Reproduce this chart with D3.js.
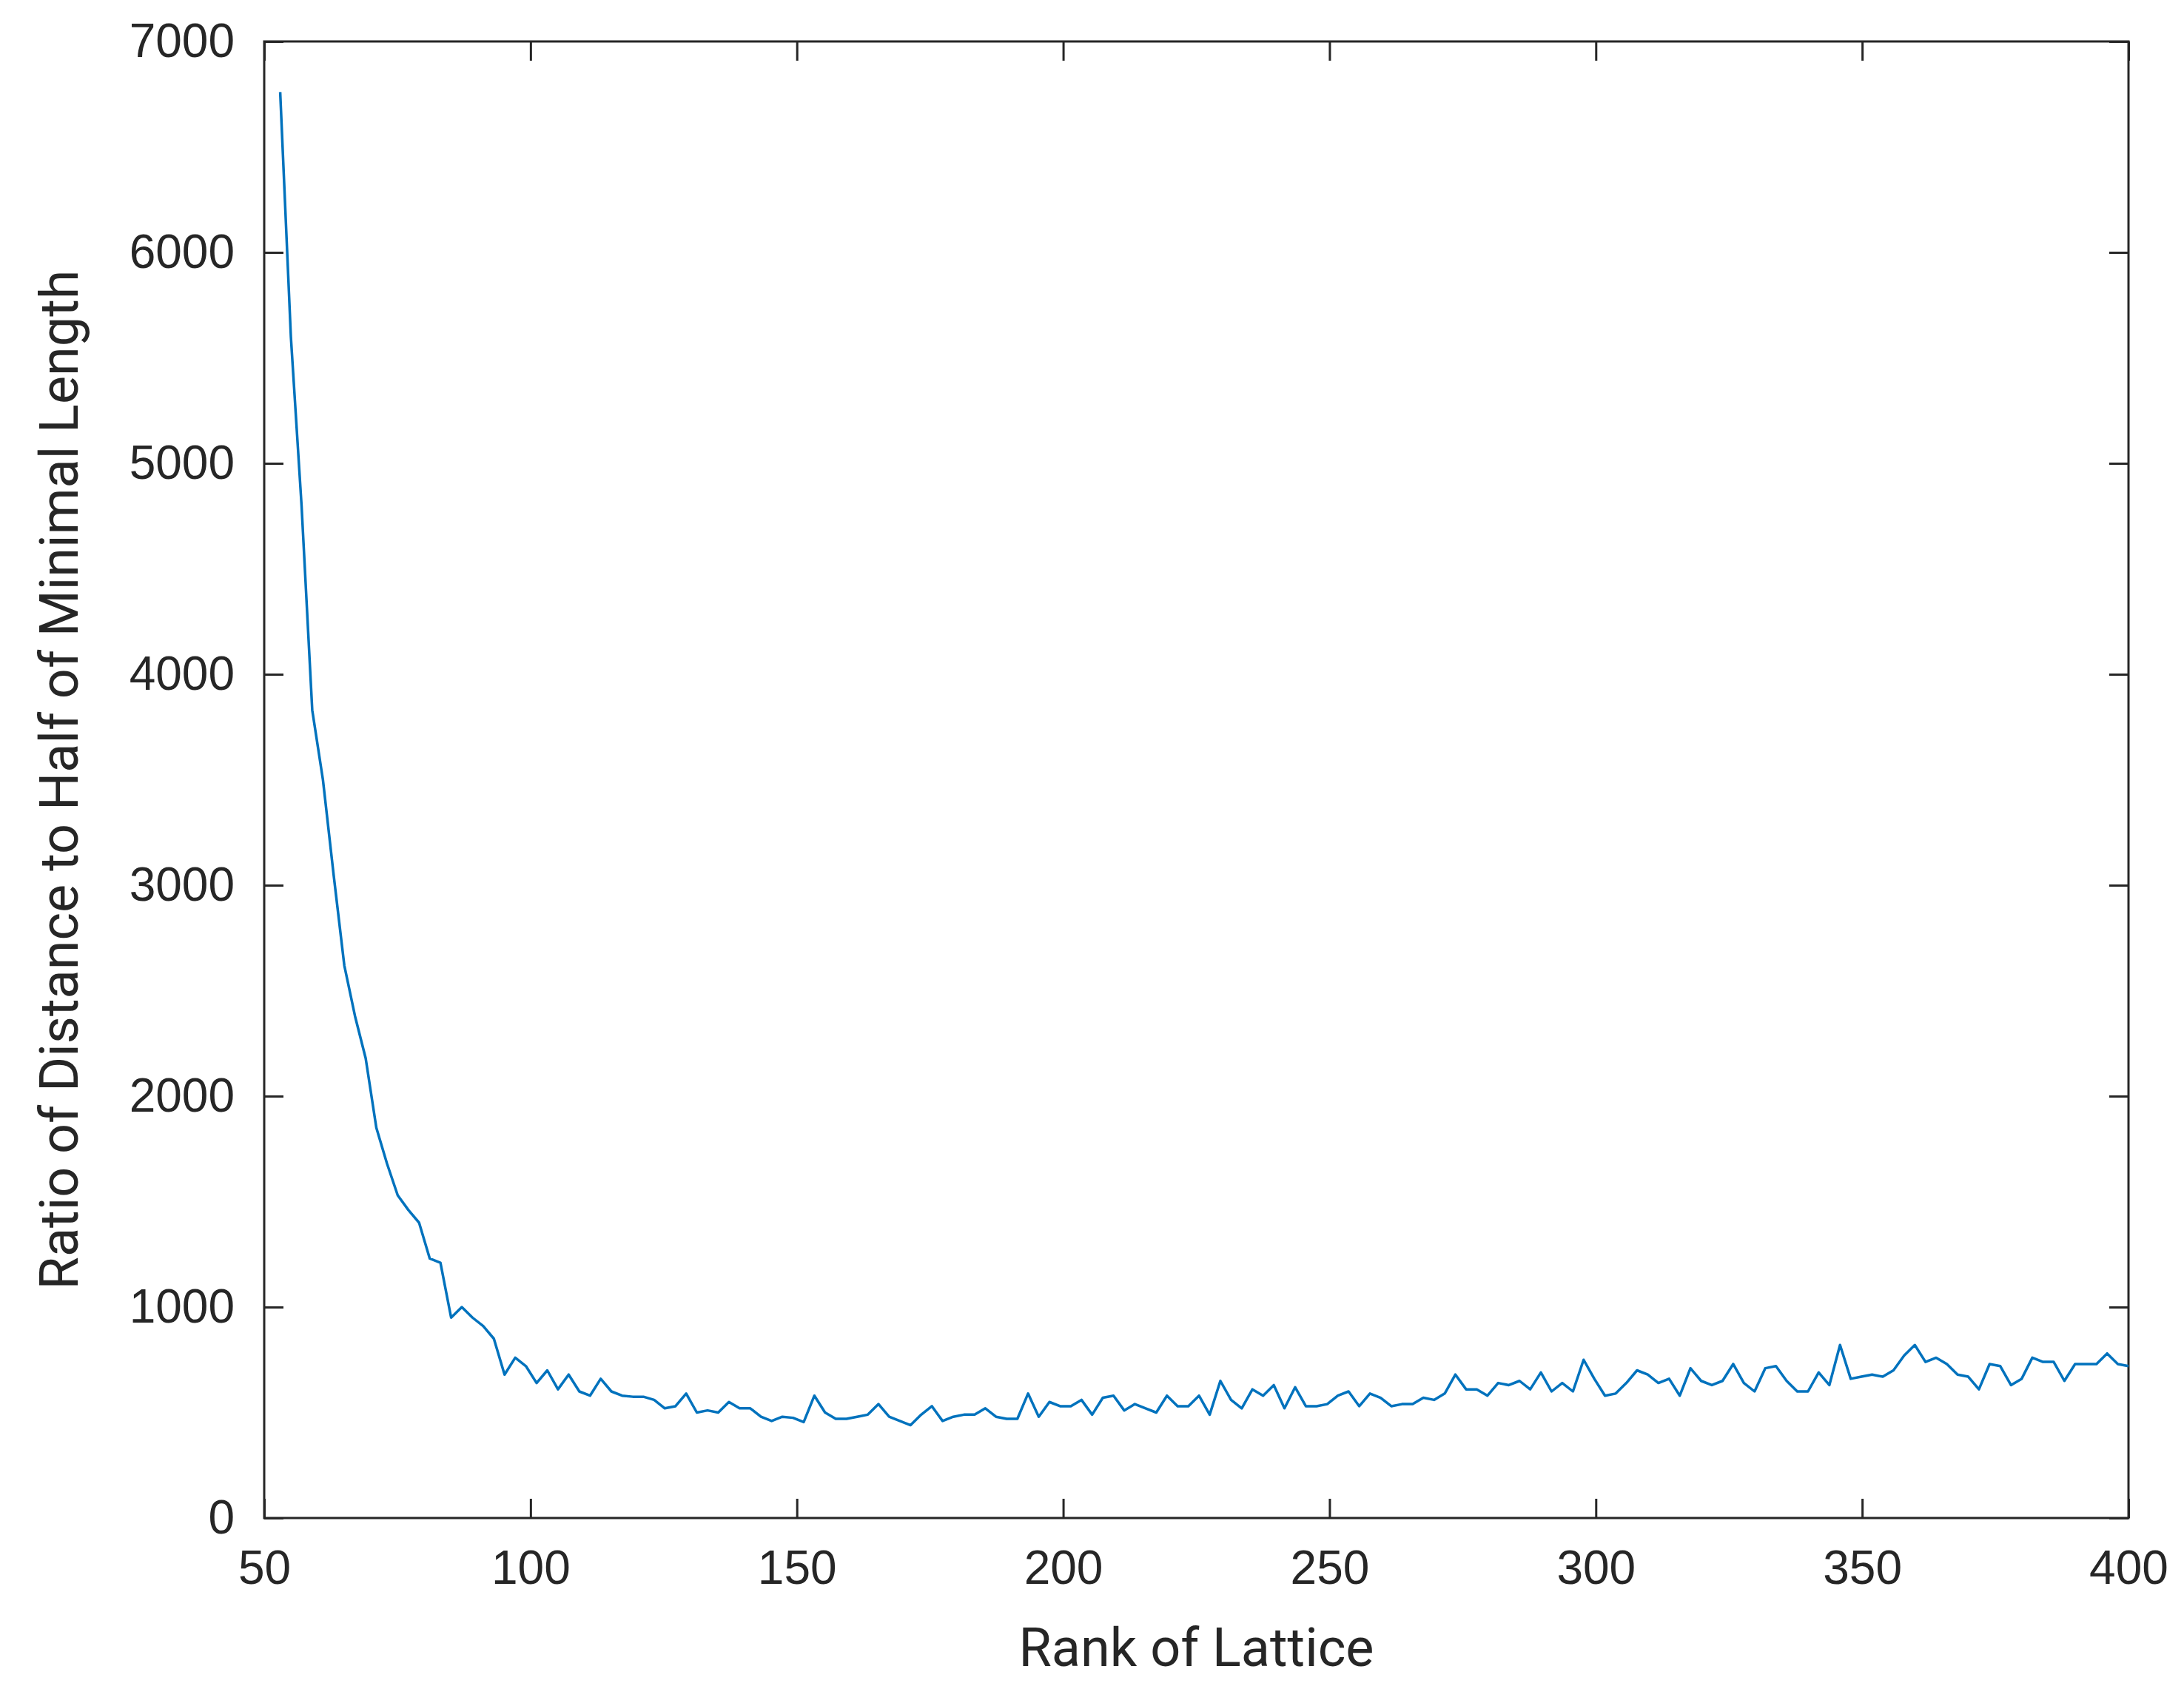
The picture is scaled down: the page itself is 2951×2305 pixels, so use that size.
<!DOCTYPE html>
<html>
<head>
<meta charset="utf-8">
<script src="https://d3js.org/d3.v7.min.js"></script>
<style>body{margin:0;background:#fff;}</style>
</head>
<body>
<div id="chart"></div>
<script>
// values, one per lattice rank (roughly every 2)
let ratioValues = [6760, 5600, 4800, 3830, 3500, 3050, 2620, 2380, 2180, 1850, 1680, 1530, 1460, 1400, 1230, 1210,
  950, 1000, 950, 910, 850, 680, 760, 720, 640, 700, 610, 680, 600, 580, 660, 600, 580, 575, 575, 560,
  520, 530, 590, 500, 510, 500, 550, 520, 520, 480, 460, 480, 475, 455, 580, 500, 470, 470, 480, 490,
  540, 480, 460, 440, 490, 530, 460, 480, 490, 490, 520, 480, 470, 470, 590, 480, 550, 530, 530, 560,
  490, 570, 580, 510, 540, 520, 500, 580, 530, 530, 580, 490, 650, 560, 520, 610, 580, 630, 520, 620,
  530, 530, 540, 580, 600, 530, 590, 570, 530, 540, 540, 570, 560, 590, 680, 610, 610, 580, 640, 630,
  650, 610, 690, 600, 640, 600, 750, 660, 580, 590, 640, 700, 680, 640, 660, 580, 710, 650, 630, 650,
  730, 640, 600, 710, 720, 650, 600, 600, 690, 630, 820, 660, 670, 680, 670, 700, 770, 820, 740, 760,
  730, 680, 670, 610, 730, 720, 630, 660, 760, 740, 740, 650, 730, 730, 730, 780, 730, 720];
let firstRank = 53, lastRank = 400;
let ranks = ratioValues.map((v, i) => firstRank + i * (lastRank - firstRank) / (ratioValues.length - 1));
let xTicks = [50, 100, 150, 200, 250, 300, 350, 400];
let yTicks = [0, 1000, 2000, 3000, 4000, 5000, 6000, 7000];

let margin = {top: 56, right: 75, bottom: 254, left: 357};
let W = 2951, H = 2305;
let w = W - margin.left - margin.right;
let h = H - margin.top - margin.bottom;

let svg = d3.select("#chart").append("svg")
    .attr("width", W).attr("height", H)
    .style("font-family", "Roboto, 'Liberation Sans', sans-serif");
let g = svg.append("g").attr("transform", "translate(" + margin.left + "," + margin.top + ")");

let x = d3.scaleLinear().domain([50, 400]).range([0, w]);
let y = d3.scaleLinear().domain([0, 7000]).range([h, 0]);

let axisColor = "#262626";
function style(sel) {
  sel.select(".domain").remove();
  sel.selectAll("line").attr("stroke", axisColor).attr("stroke-width", 3);
  sel.selectAll("text").attr("fill", axisColor).attr("font-size", "64px");
}

// inward ticks on all four sides
g.append("g").attr("transform", "translate(0," + h + ")")
  .call(d3.axisBottom(x).tickValues(xTicks).tickSize(-26).tickPadding(44).tickFormat(d3.format("d"))).call(style);
g.append("g").call(d3.axisTop(x).tickValues(xTicks).tickSize(-26).tickFormat("")).call(style);
g.append("g")
  .call(d3.axisLeft(y).tickValues(yTicks).tickSize(-26).tickPadding(40).tickFormat(d3.format("d"))).call(style);
g.append("g").attr("transform", "translate(" + w + ",0)")
  .call(d3.axisRight(y).tickValues(yTicks).tickSize(-26).tickFormat("")).call(style);

g.append("rect").attr("width", w).attr("height", h)
  .attr("fill", "none").attr("stroke", axisColor).attr("stroke-width", 3);

g.append("path")
  .datum(ratioValues)
  .attr("fill", "none")
  .attr("stroke", "#0072BD")
  .attr("stroke-width", 3.5)
  .attr("stroke-linejoin", "round")
  .attr("d", d3.line().x((d, i) => x(ranks[i])).y(d => y(d)));

g.append("text")
  .attr("x", w / 2).attr("y", h + 200)
  .attr("text-anchor", "middle").attr("font-size", "72px").attr("fill", axisColor)
  .text("Rank of Lattice");

g.append("text")
  .attr("transform", "translate(-252," + (h / 2) + ") rotate(-90)")
  .attr("text-anchor", "middle").attr("font-size", "72px").attr("fill", axisColor)
  .text("Ratio of Distance to Half of Minimal Length");
</script>
</body>
</html>
